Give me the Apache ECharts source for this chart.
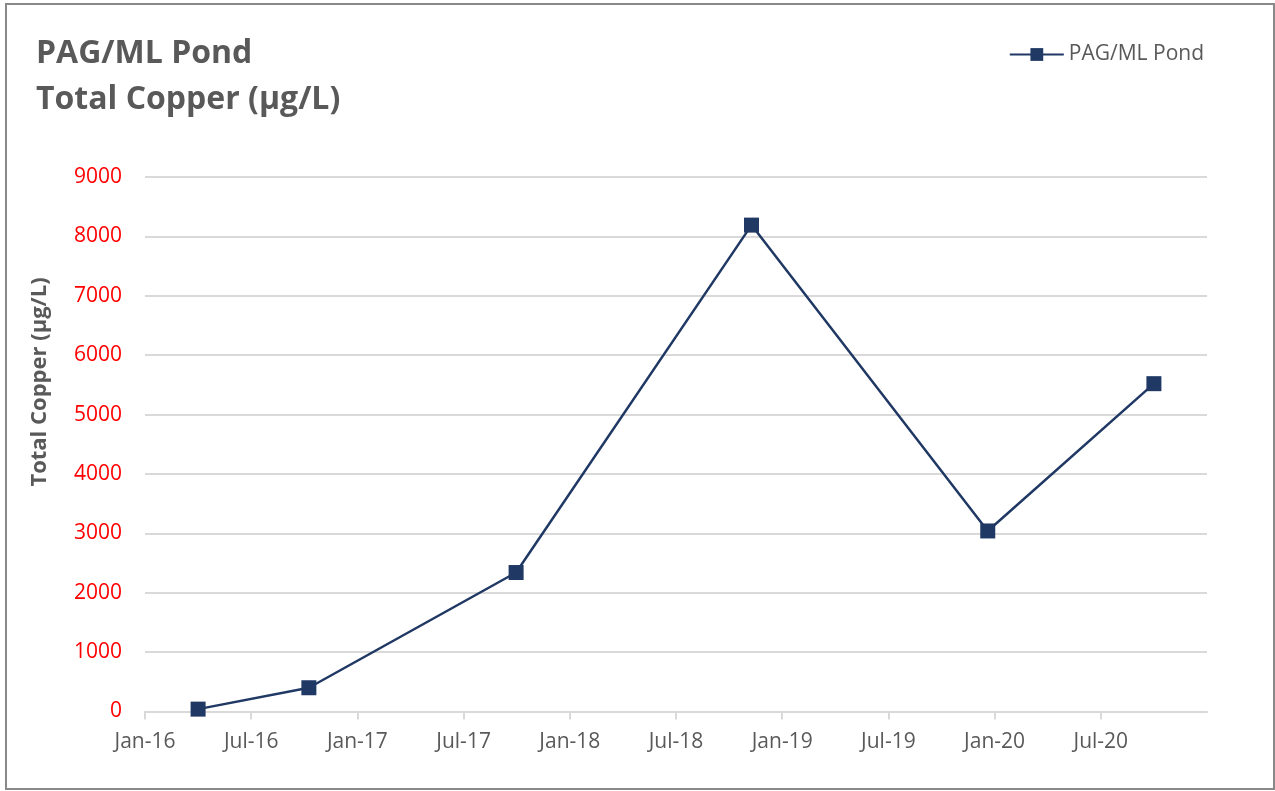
<!DOCTYPE html>
<html>
<head>
<meta charset="utf-8">
<script src="https://cdn.jsdelivr.net/npm/echarts@6/dist/echarts.min.js"></script>
<style>
html,body{margin:0;padding:0;background:#fff;}
#frame{position:absolute;left:5px;top:3px;width:1266px;height:783px;border:2px solid #898989;box-sizing:content-box;}
#chart{position:absolute;left:0;top:0;width:1275px;height:791px;}
</style>
</head>
<body>
<div id="frame"></div>
<div id="chart"></div>
<script>
// Data
const seriesName = 'PAG/ML Pond';
const yAxisTitle = 'Total Copper (µg/L)';
const sampleDates = ['2016-04-01', '2016-10-09', '2017-09-30', '2018-11-09', '2019-12-20', '2020-10-01'];
const copperValues = [40, 400, 2340, 8190, 3040, 5520];
const xTickLabels = ['Jan-16', 'Jul-16', 'Jan-17', 'Jul-17', 'Jan-18', 'Jul-18', 'Jan-19', 'Jul-19', 'Jan-20', 'Jul-20'];
const yTicks = [0, 1000, 2000, 3000, 4000, 5000, 6000, 7000, 8000, 9000];

// months since Jan 2016
function monthsSince(d) {
  const [y, m, day] = d.split('-').map(Number);
  const dim = new Date(y, m, 0).getDate();
  return (y - 2016) * 12 + (m - 1) + (day - 1) / dim;
}
const points = sampleDates.map((d, i) => [monthsSince(d), copperValues[i]]);
const tickPos = xTickLabels.map((_, i) => i * 6);

const FONT = '"Open Sans", "Liberation Sans", sans-serif';
const chart = echarts.init(document.getElementById('chart'));
chart.setOption({
  backgroundColor: 'transparent',
  animation: false,
  title: {
    text: 'PAG/ML Pond\nTotal Copper (µg/L)',
    left: 31, top: 26,
    textStyle: { fontFamily: FONT, fontSize: 32, fontWeight: 'bold', color: '#595959', lineHeight: 46 }
  },
  legend: {
    data: [seriesName],
    right: 66, top: 39,
    itemWidth: 54, itemHeight: 16, itemGap: 6,
    textStyle: { fontFamily: FONT, fontSize: 21, color: '#595959' }
  },
  graphic: [{
    type: 'text',
    x: 40, y: 382,
    rotation: Math.PI / 2,
    style: {
      text: yAxisTitle,
      fontFamily: FONT, fontSize: 22, fontWeight: 'bold', fill: '#595959',
      align: 'center', verticalAlign: 'middle'
    }
  }],
  grid: { left: 145, right: 68, top: 177, bottom: 79.5 },
  xAxis: {
    type: 'value',
    min: 0, max: 60, interval: 6,
    splitLine: { show: false },
    axisLine: { show: true, lineStyle: { color: '#d9d9d9', width: 2 } },
    axisTick: { show: true, length: 8, lineStyle: { color: '#d9d9d9', width: 2 }, customValues: tickPos },
    axisLabel: {
      customValues: tickPos,
      formatter: v => xTickLabels[Math.round(v / 6)] || '',
      fontFamily: FONT, fontSize: 21, color: '#595959', margin: 20
    }
  },
  yAxis: {
    type: 'value',
    min: yTicks[0], max: yTicks[yTicks.length - 1], interval: 1000,
    axisLine: { show: false },
    axisTick: { show: false },
    splitLine: { lineStyle: { color: '#d9d9d9', width: 2 } },
    axisLabel: { formatter: v => String(v), fontFamily: FONT, fontSize: 21, color: '#ff0000', margin: 23 }
  },
  series: [{
    name: seriesName,
    type: 'line',
    data: points,
    symbol: 'rect',
    symbolSize: 15,
    lineStyle: { color: '#203864', width: 2.5 },
    itemStyle: { color: '#203864' }
  }]
});
</script>
</body>
</html>
